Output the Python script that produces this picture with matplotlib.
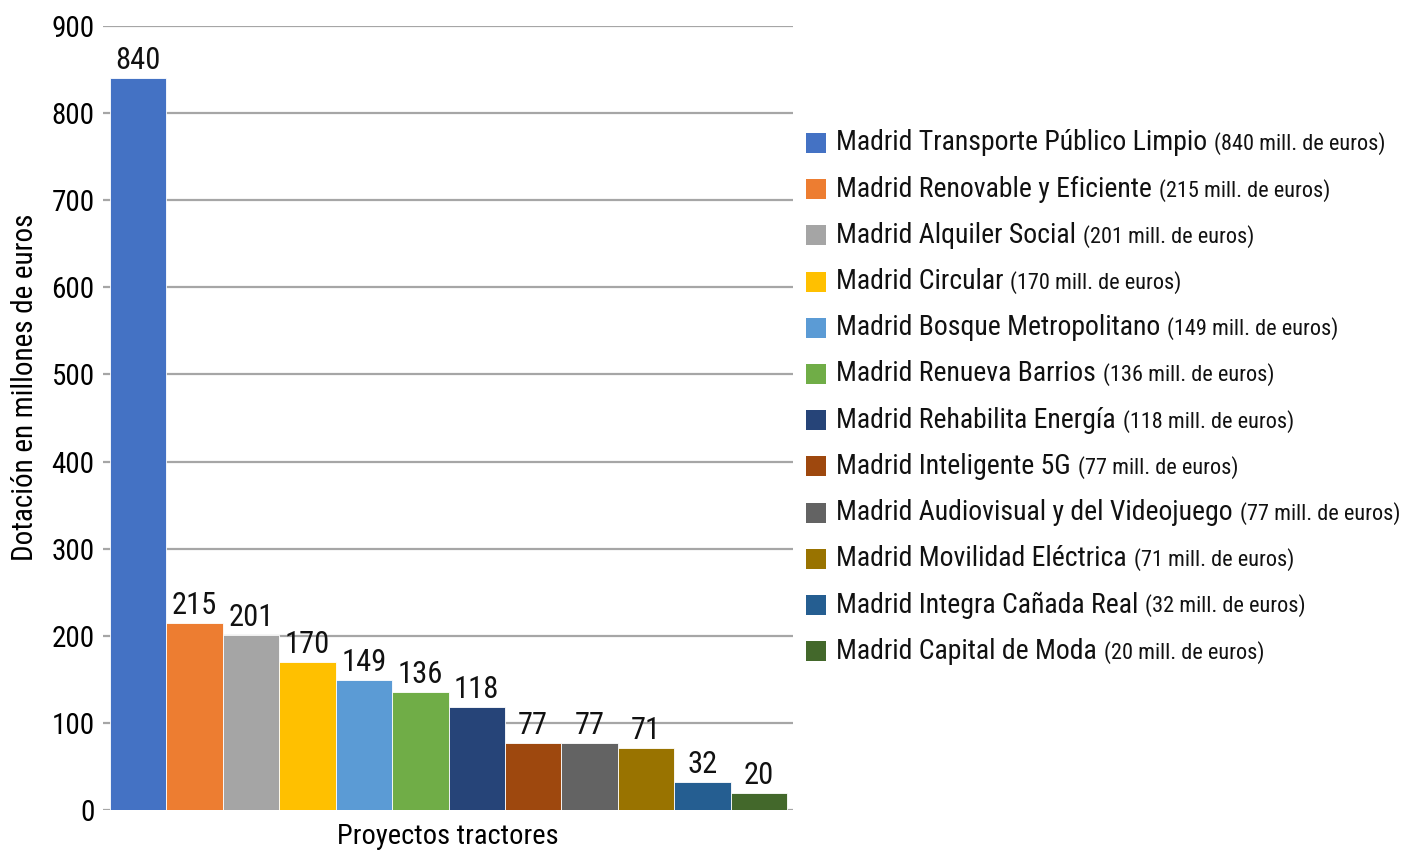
import matplotlib
matplotlib.use("Agg")
import matplotlib.pyplot as plt
from matplotlib.patches import Rectangle

plt.rcParams['font.family'] = ['Roboto Condensed', 'Archivo Narrow', 'PT Sans Narrow',
                               'Liberation Sans Narrow', 'DejaVu Sans']

# data
proyectos = [
    "Madrid Transporte Público Limpio",
    "Madrid Renovable y Eficiente",
    "Madrid Alquiler Social",
    "Madrid Circular",
    "Madrid Bosque Metropolitano",
    "Madrid Renueva Barrios",
    "Madrid Rehabilita Energía",
    "Madrid Inteligente 5G",
    "Madrid Audiovisual y del Videojuego",
    "Madrid Movilidad Eléctrica",
    "Madrid Integra Cañada Real",
    "Madrid Capital de Moda",
]
dotacion = [840, 215, 201, 170, 149, 136, 118, 77, 77, 71, 32, 20]
colores = ["#4472C4", "#ED7D31", "#A5A5A5", "#FFC000", "#5B9BD5", "#70AD47",
           "#264478", "#9E480E", "#636363", "#997300", "#255E91", "#43682B"]
yticks = [0, 100, 200, 300, 400, 500, 600, 700, 800, 900]

W, H = 1405, 850
fig = plt.figure(figsize=(W / 100, H / 100), dpi=100)
ax = fig.add_axes([103 / W, 1 - 810 / H, 690 / W, 784 / H])

xs = list(range(len(dotacion)))
bars = ax.bar(xs, dotacion, width=1.0, color=colores, edgecolor="white",
              linewidth=0.6, zorder=3)
for b, v in zip(bars, dotacion):
    ax.annotate(str(v), (b.get_x() + b.get_width() / 2, v), xytext=(0, 2),
                textcoords="offset points", ha="center", va="bottom",
                fontsize=22, color="#111111")

ax.set_xlim(-0.5 - 7 / 56.4, 11.5 + 6 / 56.4)
ax.set_ylim(0, 900)
ax.set_yticks(yticks)
ax.tick_params(axis="y", length=0, pad=6, labelsize=21)
ax.set_xticks([])
ax.yaxis.grid(True, color="#A6A6A6", linewidth=1.6, zorder=0)
ax.set_axisbelow(True)
for s in ax.spines.values():
    s.set_visible(False)

ax.set_ylabel("Dotación en millones de euros", fontsize=21)
ax.yaxis.set_label_coords(-64 / 690, (810 - 387) / 784)
ax.set_xlabel("Proyectos tractores", fontsize=20.5, labelpad=9)

# legend drawn by hand: name plus smaller amount text
fig.canvas.draw()
renderer = fig.canvas.get_renderer()
for i, (nombre, v, c) in enumerate(zip(proyectos, dotacion, colores)):
    yc = 1 - (143 + i * 46.2) / H
    fig.patches.append(Rectangle((806 / W, yc - 10 / H), 20 / W, 20 / H,
                                 facecolor=c, edgecolor="none",
                                 transform=fig.transFigure, figure=fig))
    t = fig.text(836 / W, yc, nombre, fontsize=20, va="center", ha="left",
                 color="#111111")
    bb = t.get_window_extent(renderer)
    fig.text(bb.x1 / W + 7 / W, yc - 1 / H, f"({v} mill. de euros)",
             fontsize=16, va="center", ha="left", color="#111111")

fig.savefig("out.png", dpi=100)
